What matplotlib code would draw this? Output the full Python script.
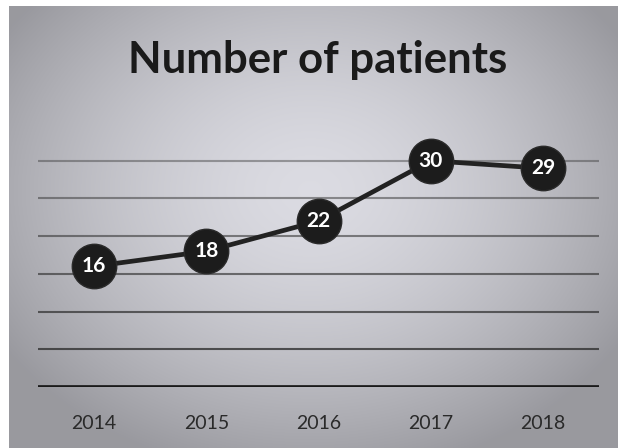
import numpy as np
import matplotlib
matplotlib.use("Agg")
import matplotlib.pyplot as plt

# data
years = ['2014', '2015', '2016', '2017', '2018']
patients = [16, 18, 22, 30, 29]
y_ticks = [0, 5, 10, 15, 20, 25, 30]

W, H = 618, 448
fig = plt.figure(figsize=(W / 100, H / 100), dpi=100)

# scanned grey background with a lighter centre
bg = fig.add_axes([0, 0, 1, 1])
yy, xx = np.mgrid[0:H, 0:W]
d = np.sqrt(((xx - 310) / 330.0) ** 2 + ((yy - 190) / 260.0) ** 2)
shade = np.clip(0.86 - 0.22 * d ** 1.6, 0.60, 0.86)
img = np.dstack([shade, shade, shade * 1.02 + 0.01])
img = np.clip(img, 0, 1)
img[:6, :, :] = 1.0
img[:, :9, :] = 1.0
bg.imshow(img, extent=[0, W, H, 0], aspect='auto', interpolation='bilinear')
bg.axis('off')

ax = fig.add_axes([38 / W, (H - 387) / H, 561 / W, 264 / H])
ax.patch.set_alpha(0)
x = np.arange(len(years))

for t in y_ticks[1:]:
    ax.axhline(t, color='#333333', lw=1.5, alpha=0.9 - 0.08 * (t / 5), zorder=1)
ax.axhline(0, color='#1a1a1a', lw=3.4, zorder=1)

ax.plot(x, patients, color='#222222', lw=3.4, zorder=2,
        marker='o', markersize=32, markerfacecolor='#1c1c1c',
        markeredgecolor='#2a2a2a', markeredgewidth=1)
for xi, v in zip(x, patients):
    ax.text(xi, v, str(v), ha='center', va='center', color='white',
            fontsize=15, fontweight='bold', family='Lato', zorder=3)

ax.set_xlim(-0.5, len(years) - 0.5)
ax.set_ylim(0, 35)
ax.set_xticks(x)
ax.set_xticklabels(years, fontsize=14, family='Lato', color='#2a2a2a')
ax.set_yticks([])
ax.tick_params(axis='x', length=0, pad=20)
for s in ax.spines.values():
    s.set_visible(False)

fig.text(318 / W, 1 - 60 / H, 'Number of patients', ha='center', va='center',
         fontsize=31.5, fontweight='bold', family='Lato', color='#1a1a1a')

fig.savefig('out.png', dpi=100)
